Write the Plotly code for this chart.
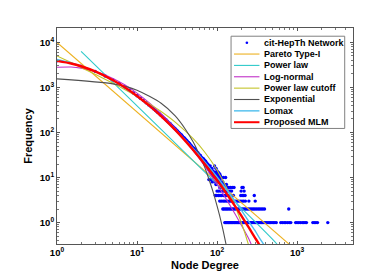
import plotly.graph_objects as go

# ---------------- data ----------------
# observed degree distribution (cit-HepTh): main body
deg_main = list(range(1, 93))
freq_main = [3900, 2950, 2280, 1800, 1460, 1210, 1020, 870, 752, 655,
             578, 512, 458, 410, 372, 338, 309, 283, 260, 240,
             222, 206, 192, 178, 166, 156, 146, 137, 128, 121,
             114, 108, 102, 97, 92, 88, 83, 78, 76, 72,
             68, 66, 62, 60, 57, 55, 51, 50, 47, 46,
             42, 44, 39, 40, 36, 37, 33, 35, 31, 32,
             29, 31, 27, 28, 25, 27, 23, 26, 22, 24,
             20, 23, 19, 21, 18, 20, 16, 19, 15, 17,
             14, 18, 13, 15, 12, 16, 13, 11, 14, 12,
             10, 13]

# tail rows: degrees observed at each (small) frequency
tail_rows = {
    18: [93],
    16: [97],
    14: [100],
    13: [95, 104],
    12: [98, 108],
    11: [96, 103, 110],
    10: [100, 106, 112, 120, 128],
    9: [79, 84, 99, 105, 109],
    8: [87, 94, 102, 107, 111, 118],
    7: [97, 113, 117, 124, 131],
    6: [108, 112, 116, 122, 127, 134, 140, 147, 155, 163, 205, 212],
    5: [100, 105, 111, 119, 125, 133, 138, 145, 152, 200, 218],
    4: [95, 99, 104, 109, 114, 121, 126, 132, 139, 146, 153, 160, 198, 206, 215, 224, 292],
    3: [108, 113, 119, 124, 130, 136, 142, 148, 155, 162, 170, 178, 186, 195, 205, 215,
        226, 250, 300],
    2: [118, 122, 127, 132, 137, 143, 149, 155, 161, 168, 175, 183, 191, 200, 209, 218,
        228, 238, 249, 260, 272, 284, 297, 311, 326, 341, 357, 374, 392, 787],
    1: [125, 128, 131, 135, 139, 142, 146, 150, 154, 158, 163, 167, 172, 177, 182, 187,
        193, 199, 205, 211, 217, 224, 231, 238, 246, 254, 262, 271, 280, 290, 300, 311,
        322, 334, 346, 359, 372, 386, 401, 417, 433, 450, 468, 487, 507, 528, 550,
        625, 655, 690, 720, 760, 800, 835, 960, 1000, 1050, 1100, 1160, 1210, 1260, 1310,
        1574, 1640, 1717, 1800, 2420],
}

# fitted curves
pareto_x = [1, 1000]
pareto_y = [10000, 0.233]

powerlaw_x = [2, 560, 700]
powerlaw_y = [6300, 0.335, 0.2]

curve_x = [1, 1.5, 2, 3, 5, 7, 10, 15, 20, 30, 50, 70, 100, 150, 200, 250, 300, 340, 390]
lognormal_y = [2818, 2844, 2692, 2275, 1588, 1146, 750, 421, 262, 123, 40.8, 18.1, 7.05,
               2.19, 0.90, 0.434, 0.20, 0.12, 0.07]
cutoff_y = [5012, 3562, 2786, 1963, 1240, 903, 634, 410, 292, 170, 73.8, 36.9, 14.7,
            3.70, 1.03, 0.30, 0.08, 0.03, 0.01]
lomax_y = [4169, 3518, 2992, 2246, 1415, 982, 634, 361, 232, 117, 45, 22.6, 10.3,
           3.95, 1.92, 1.05, 0.655, 0.45, 0.314]
mlm_y = [3890, 3406, 2958, 2265, 1449, 1012, 649, 365, 231, 114, 41.4, 20, 8.75,
         3.13, 1.45, 0.77, 0.455, 0.314, 0.19]

expo_x = [1, 5, 10, 20, 30, 40, 50, 60, 70, 80, 90, 100, 110, 120, 130]
expo_y = [1549, 1202, 871, 447, 234, 120, 63, 32.4, 17.0, 8.7, 4.57, 2.34, 1.23, 0.63, 0.32]

x_tickvals = [1, 10, 100, 1000]
x_ticktext = ["10<sup>0</sup>", "10<sup>1</sup>", "10<sup>2</sup>", "10<sup>3</sup>"]
y_tickvals = [1, 10, 100, 1000, 10000]
y_ticktext = ["10<sup>0</sup>", "10<sup>1</sup>", "10<sup>2</sup>", "10<sup>3</sup>", "10<sup>4</sup>"]

# ---------------- figure ----------------
scat_x = list(deg_main)
scat_y = list(freq_main)
for f, ds in tail_rows.items():
    scat_x += ds
    scat_y += [f] * len(ds)

FONT = "Liberation Sans, Arial, Helvetica, sans-serif"

fig = go.Figure()
fig.add_trace(go.Scatter(x=scat_x, y=scat_y, mode="markers", name="cit-HepTh Network",
                         marker=dict(color="#0000FF", size=3.4, line=dict(width=0)),
                         showlegend=False))

lines = [
    ("Pareto Type-I", pareto_x, pareto_y, "#EDB120", 1.1),
    ("Power law", powerlaw_x, powerlaw_y, "#2FCACA", 1.1),
    ("Log-normal", curve_x, lognormal_y, "#C030C8", 1.1),
    ("Power law cutoff", curve_x, cutoff_y, "#C4C42A", 1.1),
    ("Exponential", expo_x, expo_y, "#505050", 1.1),
    ("Lomax", curve_x, lomax_y, "#4DBEEE", 1.4),
    ("Proposed MLM", curve_x, mlm_y, "#FF0000", 2.4),
]
for name, xs, ys, col, w in lines:
    fig.add_trace(go.Scatter(x=xs, y=ys, mode="lines", name=name,
                             line=dict(color=col, width=w, shape="spline", smoothing=0.6),
                             showlegend=False))

# ---------------- custom compact legend ----------------
shapes = []
annots = []
lx0, lx1, ly0, ly1 = 0.588, 0.972, 0.535, 0.962
shapes.append(dict(type="rect", xref="paper", yref="paper", x0=lx0, x1=lx1, y0=ly0, y1=ly1,
                   fillcolor="white", line=dict(color="#808080", width=1), layer="above"))
row_top = 0.932
row_step = 0.0526
entries = [("cit-HepTh Network", "#0000FF", None)] + [(n, c, w) for n, _, _, c, w in lines]
for i, (name, col, w) in enumerate(entries):
    yc = row_top - i * row_step
    if w is None:
        shapes.append(dict(type="circle", xref="paper", yref="paper",
                           x0=0.6415 - 0.0045, x1=0.6415 + 0.0045, y0=yc - 0.006, y1=yc + 0.006,
                           fillcolor=col, line=dict(width=0), layer="above"))
    else:
        shapes.append(dict(type="line", xref="paper", yref="paper", x0=0.598, x1=0.684,
                           y0=yc, y1=yc, line=dict(color=col, width=min(w, 2.0)), layer="above"))
    annots.append(dict(xref="paper", yref="paper", x=0.692, y=yc, text=name, showarrow=False,
                       xanchor="left", yanchor="middle",
                       font=dict(family=FONT, size=9, color="black", weight="bold")))

axis_common = dict(type="log", showline=True, linecolor="#555555", linewidth=1,
                   mirror="ticks", ticks="inside", ticklen=3, tickcolor="#555555",
                   showgrid=False, zeroline=False, tickmode="array",
                   tickfont=dict(family=FONT, size=9.5, color="black", weight="bold"),
                   minor=dict(ticks="inside", ticklen=2, tickcolor="#777777", dtick="D1",
                              showgrid=False))

fig.update_layout(
    width=382, height=273, autosize=False,
    margin=dict(l=49, r=37, t=20, b=33),
    paper_bgcolor="white", plot_bgcolor="white",
    showlegend=False,
    xaxis=dict(axis_common, range=[0, 3.699], tickvals=x_tickvals, ticktext=x_ticktext,
               title=dict(text="Node Degree", standoff=3,
                          font=dict(family=FONT, size=11, color="black", weight="bold"))),
    yaxis=dict(axis_common, range=[-0.475, 4.32], tickvals=y_tickvals, ticktext=y_ticktext,
               title=dict(text="Frequency", standoff=4,
                          font=dict(family=FONT, size=11, color="black", weight="bold"))),
    shapes=shapes, annotations=annots,
)

fig.write_html("out.html")
